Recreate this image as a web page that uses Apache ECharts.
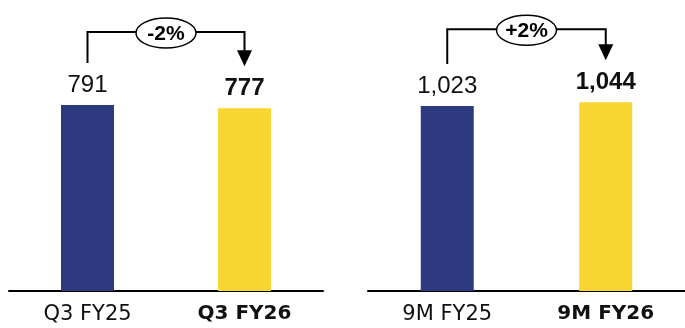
<!DOCTYPE html>
<html>
<head>
<meta charset="utf-8">
<script src="https://cdn.jsdelivr.net/npm/echarts@6/dist/echarts.min.js"></script>
<style>html,body{margin:0;padding:0;background:#fff}#c{width:685px;height:328px}</style>
</head>
<body>
<div id="c"></div>
<script>
var leftCategories = ['Q3 FY25', 'Q3 FY26'];
var leftValues = [791, 777];
var rightCategories = ['9M FY25', '9M FY26'];
var rightValues = [1023, 1044];
var barColors = ['#2d3a7f', '#f7d631'];

var chart = echarts.init(document.getElementById('c'));

function fmt(v) { return v.toLocaleString('en-US'); }

function seriesData(vals) {
  return vals.map(function (v, i) {
    return {
      value: v,
      itemStyle: { color: barColors[i] },
      label: { fontWeight: i === 1 ? 'bold' : 'normal' }
    };
  });
}

function xAxis(grid, cats) {
  return {
    type: 'category', gridIndex: grid, data: cats,
    axisTick: { show: false },
    axisLine: { lineStyle: { color: '#000', width: 2 } },
    axisLabel: {
      interval: 0,
      margin: 13,
      fontFamily: 'DejaVu Sans', fontSize: 21, color: '#111',
      formatter: function (v, i) { return i === 1 ? '{b|' + v + '}' : '{r|' + v + '}'; },
      rich: {
        r: { fontFamily: 'DejaVu Sans', fontSize: 21, color: '#111' },
        b: { fontFamily: 'DejaVu Sans', fontSize: 20, fontWeight: 'bold', color: '#111' }
      }
    }
  };
}

function yAxis(grid, max) {
  return { type: 'value', gridIndex: grid, min: 0, max: max, show: false, splitLine: { show: false } };
}

function barSeries(idx, vals) {
  return {
    type: 'bar', xAxisIndex: idx, yAxisIndex: idx, barWidth: 53,
    data: seriesData(vals),
    label: {
      show: true, position: 'top', distance: 8,
      fontFamily: 'Liberation Sans', fontSize: 24, color: '#111',
      formatter: function (p) { return fmt(p.value); }
    }
  };
}

chart.setOption({
  animation: false,
  grid: [
    { left: 9, width: 314, top: 50, bottom: 37 },
    { left: 368, width: 317, top: 50, bottom: 37 }
  ],
  xAxis: [xAxis(0, leftCategories), xAxis(1, rightCategories)],
  yAxis: [yAxis(0, 1025), yAxis(1, 1333)],
  series: [barSeries(0, leftValues), barSeries(1, rightValues)]
});

function bracket(seriesIndex, vals) {
  var p0 = chart.convertToPixel({ seriesIndex: seriesIndex }, [0, vals[0]]);
  var p1 = chart.convertToPixel({ seriesIndex: seriesIndex }, [1, vals[1]]);
  var topY = Math.min(p0[1], p1[1]) - 73;
  var startY = p0[1] - 42;
  var tipY = p1[1] - 42;
  var midX = (p0[0] + p1[0]) / 2;
  var pct = Math.round((vals[1] - vals[0]) / vals[0] * 100);
  var txt = (pct > 0 ? '+' : (pct < 0 ? '-' : '')) + Math.abs(pct) + '%';
  return [
    { type: 'polyline', shape: { points: [[p0[0], startY], [p0[0], topY], [p1[0], topY], [p1[0], tipY - 14]] },
      style: { stroke: '#000', lineWidth: 2, fill: null }, z: 10 },
    { type: 'polygon', shape: { points: [[p1[0] - 7.5, tipY - 16], [p1[0] + 7.5, tipY - 16], [p1[0], tipY]] },
      style: { fill: '#000' }, z: 10 },
    { type: 'ellipse', shape: { cx: midX, cy: topY + 1, rx: 30, ry: 15 },
      style: { fill: '#fff', stroke: '#000', lineWidth: 1.5 }, z: 11 },
    { type: 'text', x: midX, y: topY + 2,
      style: { text: txt, fontFamily: 'Liberation Sans', fontSize: 21, fontWeight: 'bold', fill: '#000',
        align: 'center', verticalAlign: 'middle' }, z: 12 }
  ];
}

chart.setOption({ graphic: bracket(0, leftValues).concat(bracket(1, rightValues)) });
</script>
</body>
</html>
